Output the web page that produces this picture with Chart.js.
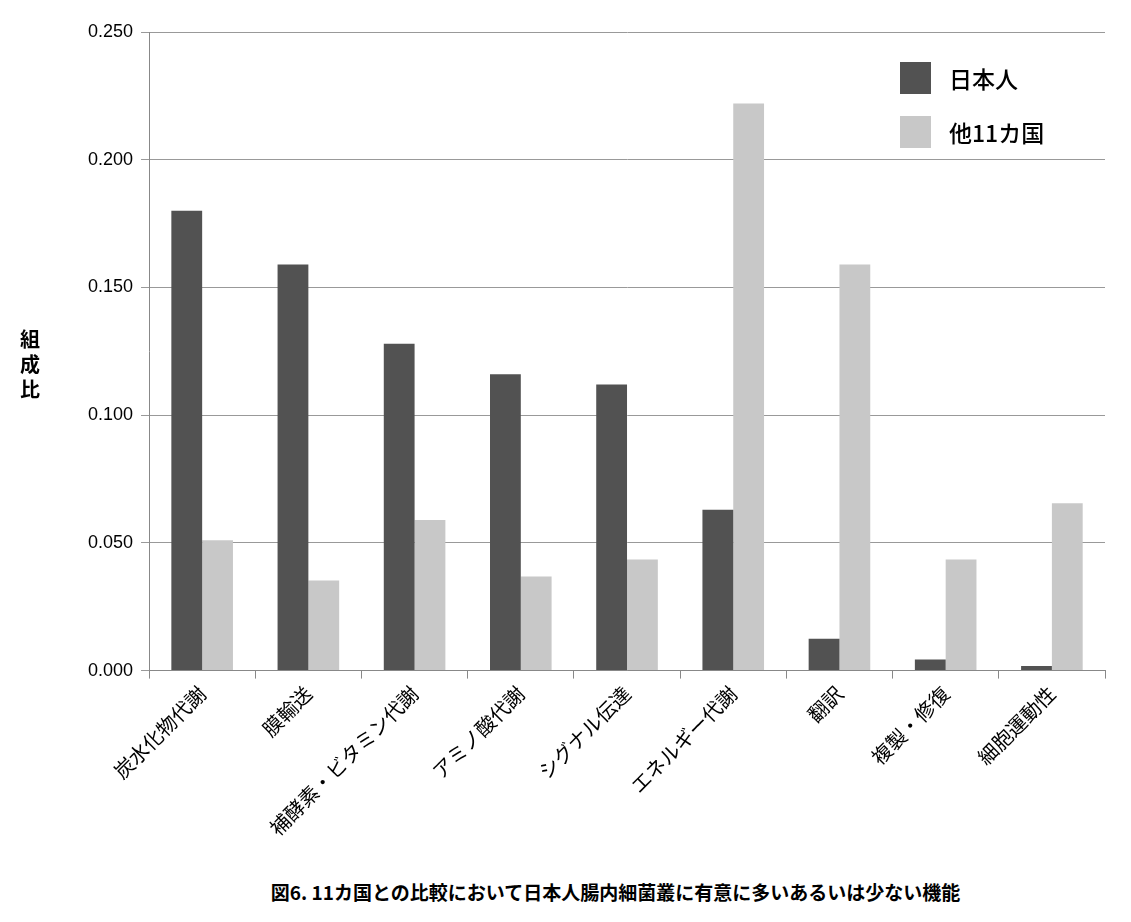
<!DOCTYPE html>
<html><head><meta charset="utf-8">
<script src="https://cdn.jsdelivr.net/npm/chart.js@4"></script>
<style>
body{margin:0;background:#fff;font-family:"Noto Sans CJK JP",sans-serif;}
#wrap{position:absolute;left:0;top:0;width:1131px;height:843px;}
#ytitle{position:absolute;left:18px;top:326px;font-size:20px;font-weight:bold;line-height:25px;width:24px;text-align:center;}
#legend{position:absolute;left:900px;top:62px;font-size:23px;font-weight:500;}
#legend div{display:flex;align-items:center;height:32px;margin-bottom:22px;}
#legend span{display:inline-block;width:31px;height:32px;margin-right:18px;}
#caption{position:absolute;left:0;width:1131px;top:878px;text-align:center;font-size:19px;font-weight:bold;padding-left:100px;box-sizing:border-box;}
</style></head><body>
<div id="wrap"><canvas id="c"></canvas></div>
<div id="ytitle">組<br>成<br>比</div>
<div id="legend"><div><span style="background:#525252"></span>日本人</div><div><span style="background:#c8c8c8"></span>他11カ国</div></div>
<div id="caption">図6. 11カ国との比較において日本人腸内細菌叢に有意に多いあるいは少ない機能</div>
<script>
const categories = ['炭水化物代謝','膜輸送','補酵素・ビタミン代謝','アミノ酸代謝','シグナル伝達','エネルギー代謝','翻訳','複製・修復','細胞運動性'];
const japanese = [0.180, 0.159, 0.128, 0.116, 0.112, 0.063, 0.0125, 0.0043, 0.0018];
const others = [0.051, 0.0353, 0.059, 0.0368, 0.0435, 0.222, 0.159, 0.0435, 0.0655];
const yTicks = [0, 0.05, 0.1, 0.15, 0.2, 0.25];

new Chart(document.getElementById('c'), {
  type: 'bar',
  data: {
    labels: categories,
    datasets: [
      { label: '日本人', data: japanese, backgroundColor: '#525252' },
      { label: '他11カ国', data: others, backgroundColor: '#c8c8c8' }
    ]
  },
  options: {
    responsive: true,
    maintainAspectRatio: false,
    animation: false,
    layout: { padding: { left: 80, right: 26, top: 32 } },
    plugins: { legend: { display: false }, tooltip: { enabled: false } },
    datasets: { bar: { categoryPercentage: 0.58, barPercentage: 1 } },
    scales: {
      x: {
        grid: { drawOnChartArea: false, offset: true, color: '#888', tickLength: 8 },
        border: { color: '#888' },
        ticks: { maxRotation: 45, minRotation: 45, color: '#000', font: { size: 20, family: 'Noto Sans CJK JP' } }
      },
      y: {
        min: 0, max: 0.25,
        afterBuildTicks: (s) => { s.ticks = yTicks.map(v => ({ value: v })); },
        grid: { color: '#999', tickLength: 8 },
        border: { color: '#888' },
        ticks: { color: '#000', padding: 8, font: { size: 18, family: 'Liberation Sans' }, callback: (v) => v.toFixed(3) }
      }
    }
  }
});
</script>
</body></html>
